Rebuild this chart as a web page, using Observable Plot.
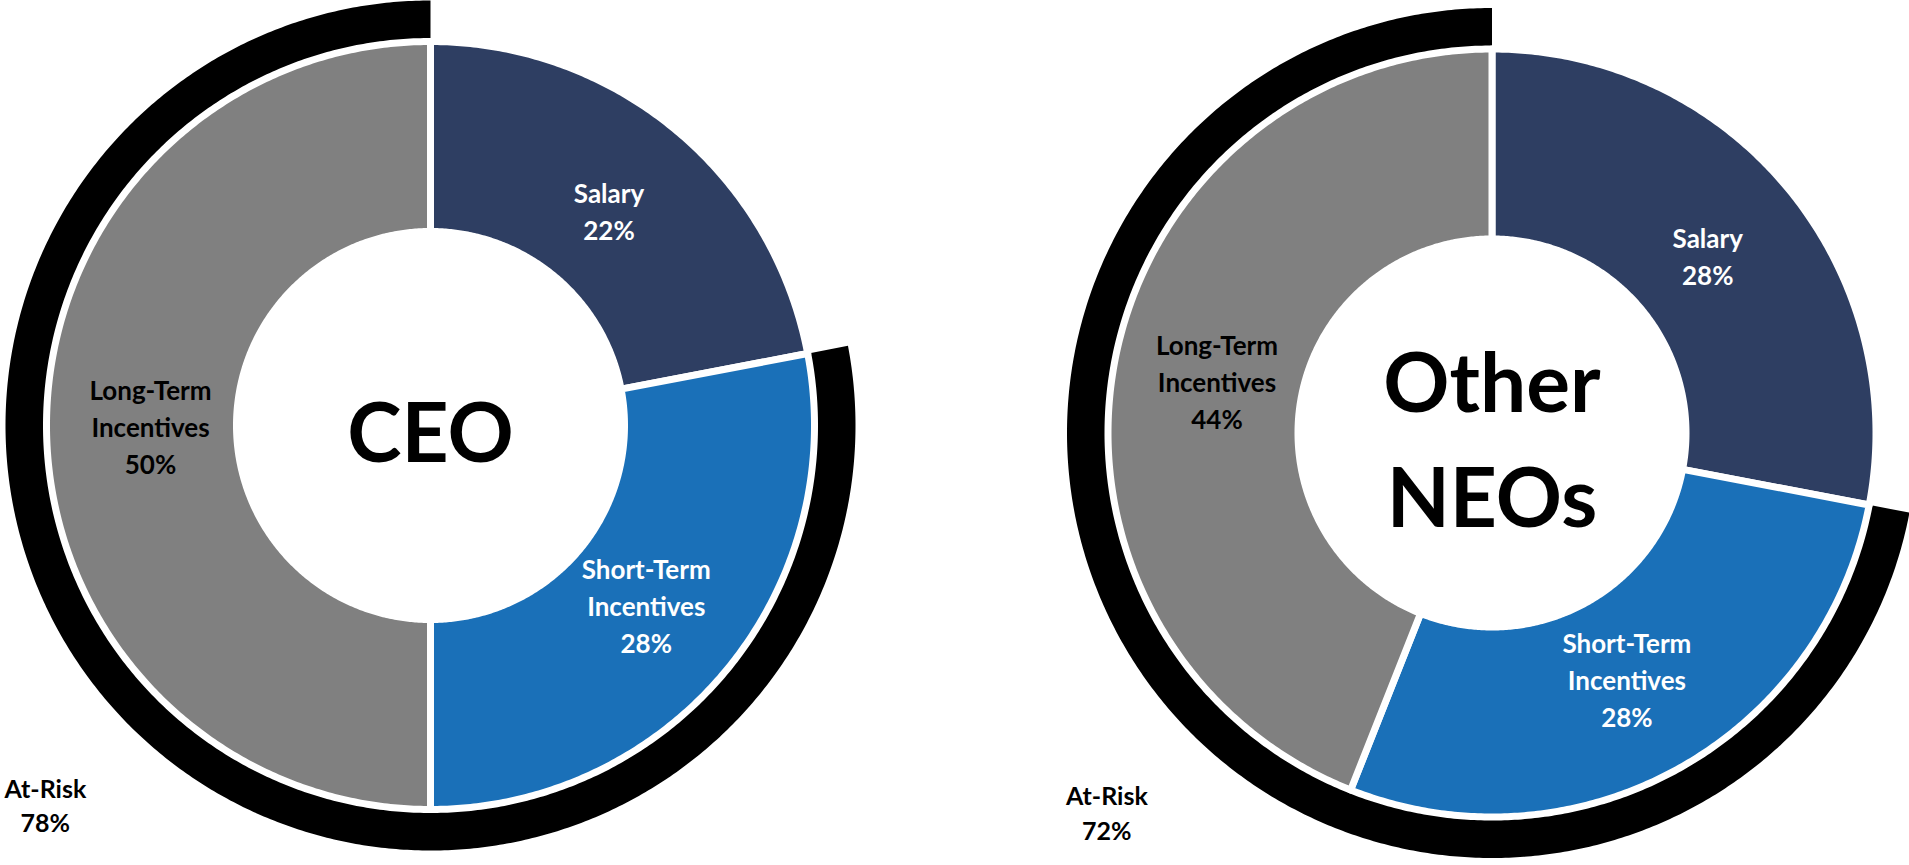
<!DOCTYPE html>
<html>
<head>
<meta charset="utf-8">
<script src="https://cdn.jsdelivr.net/npm/d3@7"></script>
<script src="https://cdn.jsdelivr.net/npm/@observablehq/plot@0.6"></script>
<style>
  html, body { margin: 0; padding: 0; background: #ffffff; }
  #chart svg { display: block; }
</style>
</head>
<body>
<div id="chart"></div>
<script>
// ---------------- data ----------------
const groups = ["CEO", "Other NEOs"];
const groupTitles = ["CEO", "Other\nNEOs"];
const components = ["Salary", "Short-Term Incentives", "Long-Term Incentives"];
const componentLabels = ["Salary", "Short-Term\nIncentives", "Long-Term\nIncentives"];
const ceoShares = [22, 28, 50];
const neoShares = [28, 28, 44];
const atRiskLabel = "At-Risk";
const atRiskShares = [78, 72];

// ---------------- styling / layout ----------------
const W = 1909, H = 865;
const componentColors = ["#2e3e62", "#1a70b8", "#808080"];
const componentTextColors = ["#ffffff", "#ffffff", "#000000"];
const layout = {
  centers: [[430, 425], [1491.5, 432.5]],
  pieR0: 194, pieR1: 384,
  riskR0: 386, riskR1: 425,
  labelR: 280,
  riskLabelAngle: 225.5, riskLabelR: 540
};

const rad = a => a * Math.PI / 180;
function polar(c, r, a) { return [c[0] + r * Math.sin(rad(a)), c[1] - r * Math.cos(rad(a))]; }
function sector(id, color, c, r0, r1, a0, a1) {
  const n = Math.max(2, Math.ceil((a1 - a0) / 0.5));
  const pts = [];
  for (let k = 0; k <= n; k++) { const [x, y] = polar(c, r1, a0 + (a1 - a0) * k / n); pts.push({id, color, x, y}); }
  for (let k = n; k >= 0; k--) { const [x, y] = polar(c, r0, a0 + (a1 - a0) * k / n); pts.push({id, color, x, y}); }
  pts.push({...pts[0]});
  return pts;
}

const slicePts = [], riskPts = [], sliceLabels = [], titleLabels = [], riskLabels = [];
groups.forEach((g, gi) => {
  const c = layout.centers[gi];
  const shares = [ceoShares, neoShares][gi];
  let acc = 0;
  shares.forEach((v, i) => {
    const a0 = acc / 100 * 360, a1 = (acc + v) / 100 * 360;
    acc += v;
    slicePts.push(...sector(g + "|" + components[i], componentColors[i], c, layout.pieR0, layout.pieR1, a0, a1));
    const [lx, ly] = polar(c, layout.labelR, (a0 + a1) / 2);
    sliceLabels.push({x: lx, y: ly, text: componentLabels[i] + "\n" + v + "%", color: componentTextColors[i]});
  });
  const r = atRiskShares[gi];
  riskPts.push(...sector(g + "|risk", "#000000", c, layout.riskR0, layout.riskR1, (100 - r) / 100 * 360, 360));
  const [rx, ry] = polar(c, layout.riskLabelR, layout.riskLabelAngle);
  riskLabels.push({x: rx, y: ry, text: atRiskLabel + "\n" + r + "%"});
  titleLabels.push({x: c[0], y: c[1], text: groupTitles[gi]});
});

const chart = Plot.plot({
  width: W, height: H,
  margin: 0,
  x: {domain: [0, W], range: [0, W], axis: null},
  y: {domain: [0, H], range: [0, H], axis: null},
  color: {type: "identity"},
  style: {fontFamily: "Lato, 'Open Sans', sans-serif", background: "#ffffff"},
  marks: [
    Plot.line(riskPts, {x: "x", y: "y", z: "id", fill: "color", stroke: "none", curve: "linear"}),
    Plot.line(slicePts, {x: "x", y: "y", z: "id", fill: "color", stroke: "#ffffff", strokeWidth: 7, curve: "linear"}),
    Plot.text(sliceLabels, {x: "x", y: "y", text: "text", fill: "color", fontSize: 26, fontWeight: "bold", lineHeight: 1.42, fontFamily: "Lato"}),
    Plot.text(riskLabels, {x: "x", y: "y", text: "text", fill: "#000000", fontSize: 25, fontWeight: "bold", lineHeight: 1.38, fontFamily: "Lato"}),
    Plot.text(titleLabels, {x: "x", y: "y", text: "text", fill: "#000000", fontSize: 82, fontWeight: "bold", lineHeight: 1.4, fontFamily: "Lato"})
  ]
});
document.getElementById("chart").appendChild(chart);
</script>
</body>
</html>
